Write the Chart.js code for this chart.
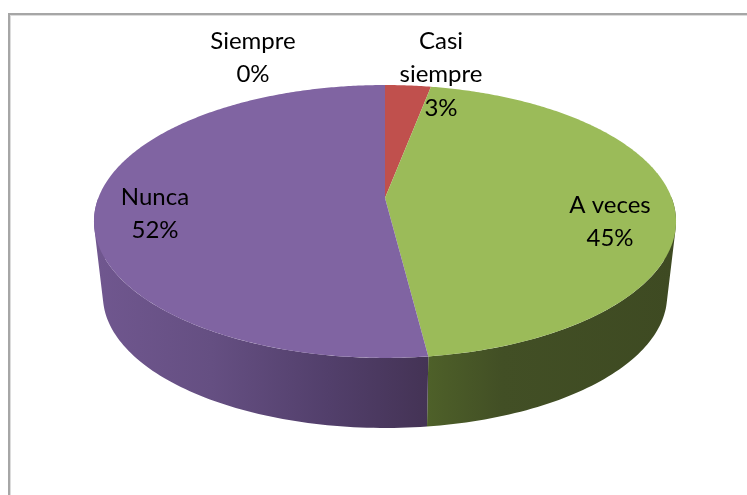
<!DOCTYPE html>
<html>
<head>
<meta charset="utf-8">
<style>html,body{margin:0;padding:0;background:#fff}canvas{display:block}</style>
<script src="https://cdn.jsdelivr.net/npm/chart.js@4"></script>
</head>
<body>
<canvas id="c" width="747" height="495"></canvas>
<script>
const categories = ["Siempre", "Casi siempre", "A veces", "Nunca"];
const percentages = [0, 3, 45, 52];
const sliceColors = ["#4f81bd", "#c0504d", "#9bbb59", "#8064a2"];
const labelLines = [["Siempre", "0%"], ["Casi", "siempre", "3%"], ["A veces", "45%"], ["Nunca", "52%"]];
const labelAnchors = [[253, 41], [441, 41], [610, 205], [155, 197]];

const FONT = '24px Lato, "Open Sans", sans-serif';
const LINE_H = 33.5;
const CX = 385;
const TOP = { y0: 198, A: 286.7, B: 132.4, k: 0.172 };
const BOT = { y0: 273, A: 277.9, B: 128.3, k: 0.172 };

function project(m, theta) {
  const X = Math.sin(theta), Y = -Math.cos(theta), d = 1 - m.k * Y;
  return [CX + m.A * X / d, m.y0 + m.B * Y / d];
}
function wallStyle(ctx, i) {
  if (i === 3) {
    const g = ctx.createLinearGradient(95, 0, 428, 0);
    g.addColorStop(0, "#70578f"); g.addColorStop(0.35, "#654f82");
    g.addColorStop(0.7, "#523f6b"); g.addColorStop(1, "#443355");
    return g;
  }
  if (i === 2) {
    const g = ctx.createLinearGradient(428, 0, 676, 0);
    g.addColorStop(0, "#4e6029"); g.addColorStop(0.3, "#424f25"); g.addColorStop(1, "#3e4a22");
    return g;
  }
  return "#7a2f2d";
}

const pie3d = {
  id: "pie3d",
  beforeDraw(chart) {
    const ctx = chart.ctx;
    ctx.save();
    ctx.fillStyle = "#fff"; ctx.fillRect(0, 0, 747, 495);
    ctx.fillStyle = "#a6a6a6";
    ctx.fillRect(8, 13, 739, 2);
    ctx.fillRect(8, 13, 2, 482);
    ctx.fillStyle = "#dcdcdc";
    ctx.fillRect(10, 15, 737, 1);
    ctx.fillRect(10, 15, 1, 480);
    ctx.restore();
  },
  beforeDatasetDraw(chart, args) {
    const ctx = chart.ctx, arcs = chart.getDatasetMeta(args.index).data;
    ctx.save();
    // side wall: only the front half of the rim is visible
    arcs.forEach((arc, i) => {
      const a0 = arc.startAngle + Math.PI / 2, a1 = arc.endAngle + Math.PI / 2;
      if (a1 - a0 < 1e-4) return;
      const n = Math.ceil((a1 - a0) / 0.02);
      ctx.beginPath();
      let any = false;
      for (let s = 0; s < n; s++) {
        const t0 = a0 + (a1 - a0) * s / n, t1 = a0 + (a1 - a0) * (s + 1) / n;
        if (-Math.cos((t0 + t1) / 2) < 0) continue;
        any = true;
        const p = [project(TOP, t0), project(TOP, t1), project(BOT, t1), project(BOT, t0)];
        let area = 0;
        for (let q = 0; q < 4; q++) {
          const u = p[q], v = p[(q + 1) % 4];
          area += u[0] * v[1] - v[0] * u[1];
        }
        if (area < 0) p.reverse();
        ctx.moveTo(p[0][0], p[0][1]);
        for (let q = 1; q < 4; q++) ctx.lineTo(p[q][0], p[q][1]);
        ctx.closePath();
      }
      if (any) { ctx.fillStyle = wallStyle(ctx, i); ctx.fill("nonzero"); }
    });
    // top face
    arcs.forEach((arc, i) => {
      const a0 = arc.startAngle + Math.PI / 2, a1 = arc.endAngle + Math.PI / 2;
      if (a1 - a0 < 1e-4) return;
      const n = Math.ceil((a1 - a0) / 0.01);
      ctx.beginPath();
      ctx.moveTo(CX, TOP.y0);
      for (let s = 0; s <= n; s++) {
        const p = project(TOP, a0 + (a1 - a0) * s / n);
        ctx.lineTo(p[0], p[1]);
      }
      ctx.closePath();
      ctx.fillStyle = sliceColors[i];
      ctx.fill();
    });
    ctx.restore();
    return false;
  },
  afterDatasetsDraw(chart) {
    const ctx = chart.ctx;
    ctx.save();
    ctx.font = FONT; ctx.fillStyle = "#000";
    ctx.textAlign = "center"; ctx.textBaseline = "middle";
    labelLines.forEach((lines, i) => {
      lines.forEach((t, j) => ctx.fillText(t, labelAnchors[i][0], labelAnchors[i][1] + j * LINE_H));
    });
    ctx.restore();
  }
};

new Chart(document.getElementById("c"), {
  type: "pie",
  data: {
    labels: categories,
    datasets: [{ data: percentages, backgroundColor: sliceColors, borderWidth: 0 }]
  },
  options: {
    responsive: false,
    animation: false,
    events: [],
    plugins: { legend: { display: false }, tooltip: { enabled: false } }
  },
  plugins: [pie3d]
});
</script>
</body>
</html>
